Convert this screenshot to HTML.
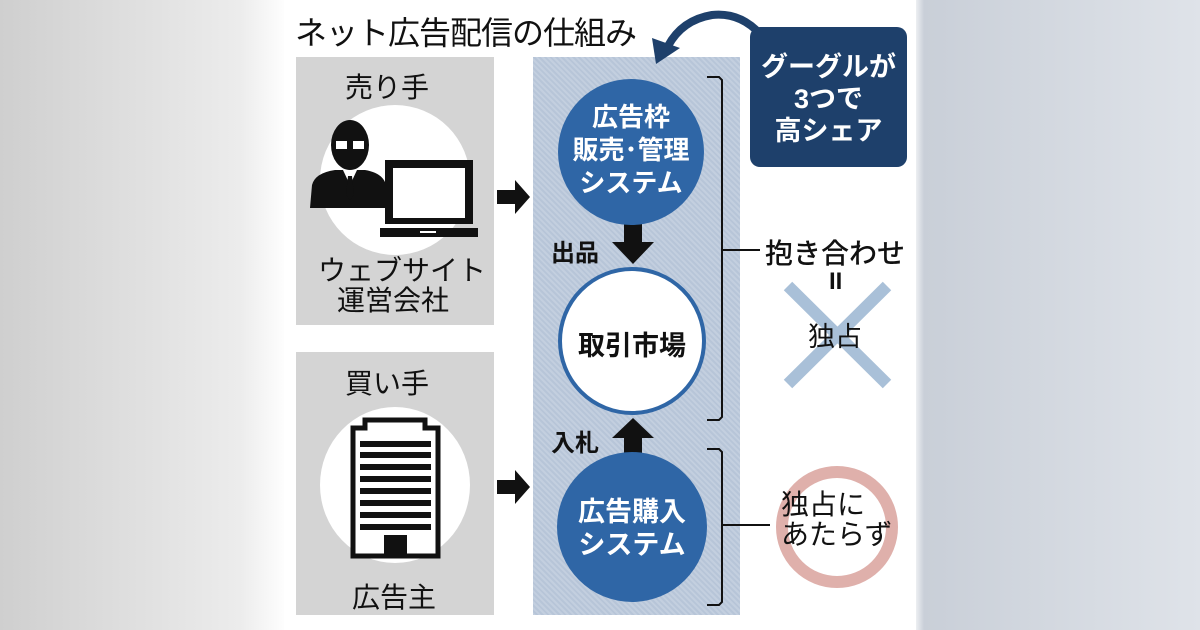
<!DOCTYPE html>
<html><head><meta charset="utf-8"><style>
body{margin:0;width:1200px;height:630px;overflow:hidden;position:relative;font-family:"Liberation Sans","Noto Sans CJK JP",sans-serif;background:linear-gradient(90deg,#cfcfcf 0%,#ececec 20%,#fff 24%,#fff 76%,#c9cfd8 77%,#dfe3e9 100%);}
.t{position:absolute;white-space:nowrap;color:#111;}
.b{font-weight:bold}
</style></head><body>
<div style="position:absolute;left:284px;top:0;width:632px;height:630px;background:#fff"></div>
<div class="t" style="left:295px;top:8px;font-size:32px;letter-spacing:-1px">ネット広告配信の仕組み</div>
<div style="position:absolute;left:296px;top:57px;width:198px;height:268px;background:#d4d4d4"></div>
<div style="position:absolute;left:296px;top:352px;width:198px;height:263px;background:#d4d4d4"></div>
<div style="position:absolute;left:533px;top:57px;width:207px;height:558px;background:repeating-linear-gradient(45deg,#c3cfdf 0 2px,#b7c5d8 2px 4px)"></div>
<svg width="1200" height="630" style="position:absolute;left:0;top:0">
<ellipse cx="395" cy="180" rx="75" ry="75" fill="#fff"/>
<ellipse cx="395" cy="485" rx="75" ry="78" fill="#fff"/>
<!-- person -->
<ellipse cx="350" cy="145" rx="19" ry="25" fill="#111"/>
<rect x="335" y="140" width="13" height="10" fill="#fff" stroke="#111" stroke-width="2"/>
<rect x="352" y="140" width="13" height="10" fill="#fff" stroke="#111" stroke-width="2"/>
<path d="M310 208 L312 185 Q315 173 335 170 L365 170 Q383 173 386 185 L386 208 Z" fill="#111"/>
<path d="M343 170 L350 185 L357 170 Z" fill="#fff"/>
<path d="M348 176 L352 176 L354 195 L350 200 L346 195 Z" fill="#111"/>
<!-- laptop -->
<rect x="385" y="160" width="88" height="64" fill="#111"/>
<rect x="393" y="168" width="72" height="50" fill="#fff"/>
<rect x="380" y="228" width="98" height="9" fill="#111"/>
<rect x="420" y="231" width="16" height="2" fill="#fff"/>
<!-- building -->
<path d="M353 443 L353 428 L365 428 L365 420 L425 420 L425 428 L438 428 L438 556 L353 556 Z" fill="#fff" stroke="#111" stroke-width="5"/>
<g fill="#111"><rect x="360" y="441" width="71" height="6"/><rect x="360" y="452" width="71" height="6"/><rect x="360" y="464" width="71" height="6"/><rect x="360" y="476" width="71" height="6"/><rect x="360" y="488" width="71" height="6"/><rect x="360" y="500" width="71" height="6"/><rect x="360" y="512" width="71" height="6"/><rect x="360" y="524" width="71" height="6"/></g>
<rect x="384" y="535" width="23" height="21" fill="#111"/>
<!-- arrows -->
<path d="M497 190 L515 190 L515 180 L530 197 L515 214 L515 204 L497 204 Z" fill="#111"/>
<path d="M497 480 L515 480 L515 470 L530 487 L515 504 L515 494 L497 494 Z" fill="#111"/>
<path d="M624 224 L642 224 L642 242 L654 242 L633 264 L612 242 L624 242 Z" fill="#111"/>
<path d="M624 454 L642 454 L642 438 L654 438 L633 418 L612 438 L624 438 Z" fill="#111"/>
<!-- circles -->
<circle cx="631" cy="152" r="73" fill="#2f66a6"/>
<circle cx="632" cy="341" r="72" fill="#fff" stroke="#2f66a6" stroke-width="4"/>
<circle cx="632" cy="527" r="75" fill="#2f66a6"/>
<!-- brackets -->
<path d="M707 77 L719 77 L722 80 L722 417 L719 420 L707 420" fill="none" stroke="#111" stroke-width="2"/>
<path d="M707 449 L719 449 L722 452 L722 602 L719 605 L707 605" fill="none" stroke="#111" stroke-width="2"/>
<line x1="722" y1="250" x2="760" y2="250" stroke="#111" stroke-width="2"/>
<line x1="722" y1="525" x2="770" y2="525" stroke="#111" stroke-width="2"/>
<!-- X -->
<line x1="788" y1="286" x2="887" y2="384" stroke="#a9c0d8" stroke-width="12"/>
<line x1="887" y1="286" x2="788" y2="384" stroke="#a9c0d8" stroke-width="12"/>
<circle cx="837" cy="527" r="55" fill="none" stroke="#dfb0ab" stroke-width="12"/>
<!-- navy box -->
<rect x="750" y="27" width="157" height="140" rx="10" fill="#1e406b"/>
<path d="M760 34 Q740 12 712 15 Q682 20 668 46" fill="none" stroke="#1e406b" stroke-width="8"/>
<path d="M652 38 L680 48 L656 64 Z" fill="#1e406b"/>
</svg>
<div class="t" style="left:345px;top:66px;font-size:28px">売り手</div>
<div class="t" style="left:318px;top:255px;font-size:28px;line-height:32px">ウェブサイト</div>
<div class="t" style="left:337px;top:285px;font-size:28px;line-height:32px">運営会社</div>
<div class="t" style="left:345px;top:362px;font-size:28px">買い手</div>
<div class="t" style="left:352px;top:576px;font-size:28px">広告主</div>
<div class="t b" style="left:566px;top:101px;width:130px;text-align:center;font-size:26px;color:#fff;line-height:33px">広告枠<br>販売･管理<br>システム</div>
<div class="t b" style="left:567px;top:324px;width:130px;text-align:center;font-size:27px">取引市場</div>
<div class="t b" style="left:567px;top:496px;width:130px;text-align:center;font-size:27px;color:#fff;line-height:33px">広告購入<br>システム</div>
<div class="t b" style="left:551px;top:233px;font-size:24px">出品</div>
<div class="t b" style="left:551px;top:423px;font-size:24px">入札</div>
<div class="t" style="left:765px;top:232px;font-size:28px;font-weight:500">抱き合わせ</div>
<div class="t b" style="left:829px;top:268px;font-size:24px">II</div>
<div class="t" style="left:808px;top:315px;font-size:27px">独占</div>
<div class="t" style="left:781px;top:490px;font-size:28px;line-height:30px">独占に<br>あたらず</div>
<div class="t b" style="left:750px;top:51px;width:157px;text-align:center;font-size:27px;color:#fff;line-height:32px">グーグルが<br>3つで<br>高シェア</div>
</body></html>
